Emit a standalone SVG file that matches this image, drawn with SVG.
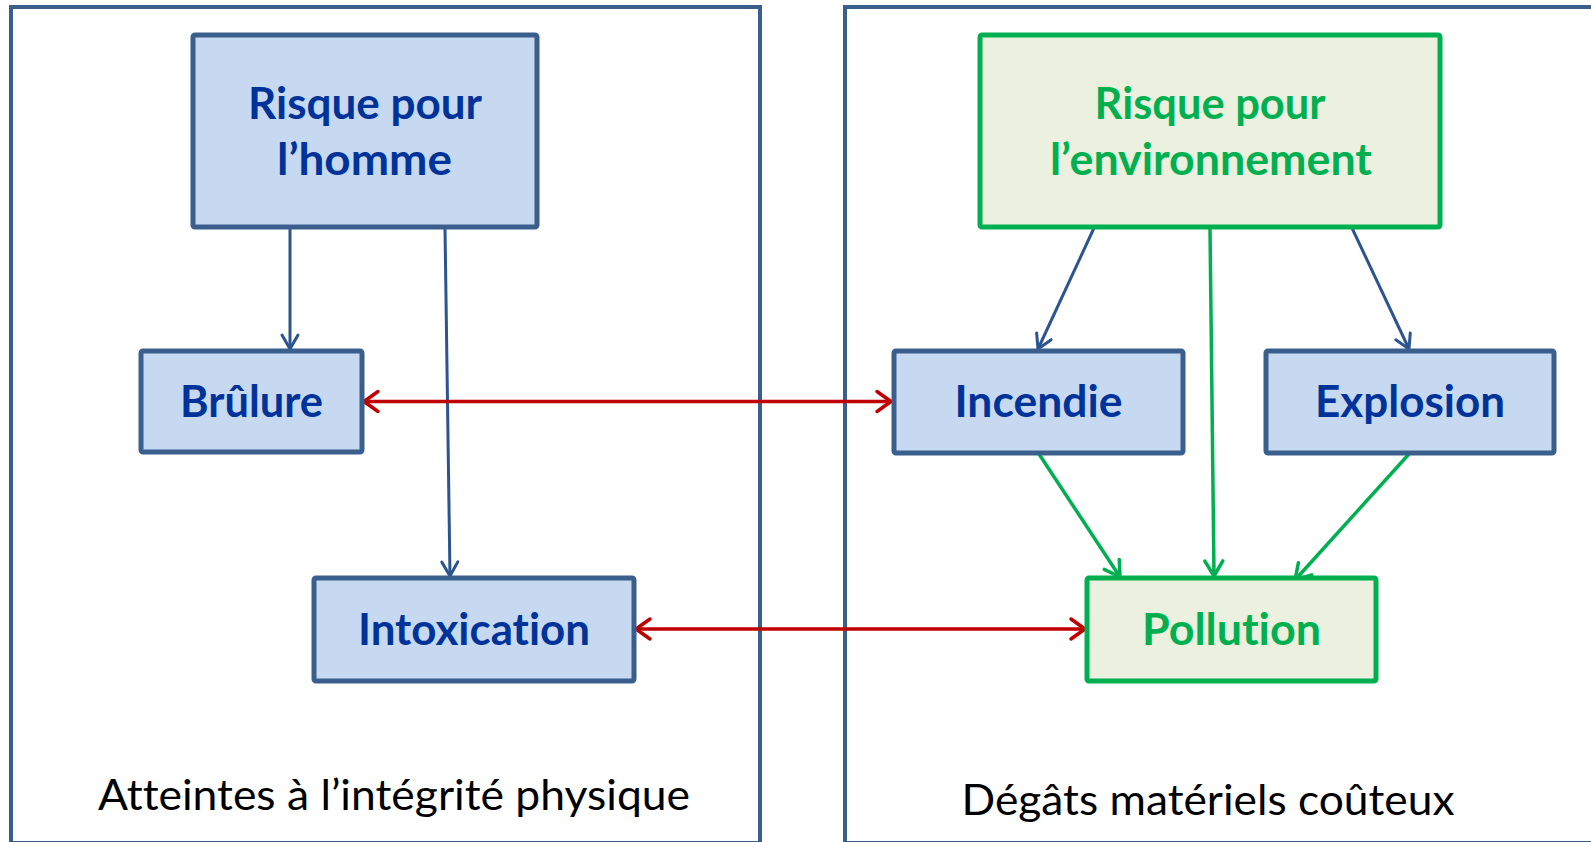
<svg xmlns="http://www.w3.org/2000/svg" width="1591" height="842" viewBox="0 0 1591 842">
<style>
.panel{fill:#FFFFFF;stroke:#3A5F8D;stroke-width:4}
.bn{fill:#C6D9F1;stroke:#3A5F8D;stroke-width:5}
.gn{fill:#EBF1DE;stroke:#00B050;stroke-width:5}
text{font-variant-ligatures:none;font-feature-settings:"liga" 0}
.bt{font-family:Lato,"Open Sans",sans-serif;font-weight:bold;font-size:43px;fill:#003399;text-anchor:middle}
.gt{font-family:Lato,"Open Sans",sans-serif;font-weight:bold;font-size:43px;fill:#00B050;text-anchor:middle}
.pt{font-family:Lato,"Open Sans",sans-serif;font-size:42px;fill:#000000;text-anchor:middle}
.cb{stroke:#2C5590;stroke-width:3;fill:none;marker-end:url(#ab)}
.cg{stroke:#00B050;stroke-width:3.5;fill:none;marker-end:url(#ag)}
.cr{stroke:#C00000;stroke-width:3.5;fill:none;marker-start:url(#ar);marker-end:url(#ar)}
</style>
<defs>
<marker id="ab" markerUnits="userSpaceOnUse" markerWidth="30" markerHeight="30" viewBox="-20 -15 30 30" refX="0" refY="0" orient="auto" overflow="visible">
<path d="M-14,-8 L0,0 L-14,8" fill="none" stroke="#2C5590" stroke-width="3" stroke-linecap="round" stroke-linejoin="round"/>
</marker>
<marker id="ag" markerUnits="userSpaceOnUse" markerWidth="30" markerHeight="30" viewBox="-20 -15 30 30" refX="0" refY="0" orient="auto" overflow="visible">
<path d="M-15,-9 L0,0 L-15,9" fill="none" stroke="#00B050" stroke-width="3.5" stroke-linecap="round" stroke-linejoin="round"/>
</marker>
<marker id="ar" markerUnits="userSpaceOnUse" markerWidth="30" markerHeight="30" viewBox="-20 -15 30 30" refX="0" refY="0" orient="auto-start-reverse" overflow="visible">
<path d="M-14,-10 L0,0 L-14,10" fill="none" stroke="#C00000" stroke-width="3.5" stroke-linecap="round" stroke-linejoin="round"/>
</marker>
</defs>

<g id="panel-left">
<rect class="panel" x="11" y="7" width="749" height="836"/>
<text class="pt" x="394" y="810" textLength="592" lengthAdjust="spacingAndGlyphs">Atteintes à l’intégrité physique</text>
</g>
<g id="panel-right">
<rect class="panel" x="845" y="7" width="780" height="836"/>
<text class="pt" x="1208" y="815" textLength="493" lengthAdjust="spacingAndGlyphs">Dégâts matériels coûteux</text>
</g>

<g id="connectors">
<line class="cb" x1="290" y1="227" x2="290" y2="349"/>
<line class="cb" x1="445" y1="228" x2="450" y2="576"/>
<line class="cb" x1="1094" y1="228" x2="1038" y2="349"/>
<line class="cb" x1="1352" y1="228" x2="1409" y2="349"/>
<line class="cg" x1="1210" y1="228" x2="1214" y2="576"/>
<line class="cg" x1="1039" y1="454" x2="1120" y2="577"/>
<line class="cg" x1="1409" y1="454" x2="1295" y2="580"/>
<line class="cr" x1="364" y1="401.5" x2="891" y2="401.5"/>
<line class="cr" x1="636" y1="629" x2="1085" y2="629"/>
</g>

<g id="node-risque-homme">
<rect class="bn" x="193" y="35" width="344" height="192" rx="2"/>
<text class="bt" x="365" y="119" textLength="234" lengthAdjust="spacingAndGlyphs">Risque pour</text>
<text class="bt" x="364.5" y="175" textLength="175" lengthAdjust="spacingAndGlyphs">l’homme</text>
</g>
<g id="node-risque-env">
<rect class="gn" x="980" y="35" width="460" height="192" rx="2"/>
<text class="gt" x="1210" y="119" textLength="231" lengthAdjust="spacingAndGlyphs">Risque pour</text>
<text class="gt" x="1211" y="175" textLength="322" lengthAdjust="spacingAndGlyphs">l’environnement</text>
</g>
<g id="node-brulure">
<rect class="bn" x="141" y="351" width="221" height="101" rx="2"/>
<text class="bt" x="251.5" y="417" textLength="143" lengthAdjust="spacingAndGlyphs">Brûlure</text>
</g>
<g id="node-intoxication">
<rect class="bn" x="314" y="578" width="320" height="103" rx="2"/>
<text class="bt" x="474" y="645" textLength="232" lengthAdjust="spacingAndGlyphs">Intoxication</text>
</g>
<g id="node-incendie">
<rect class="bn" x="894" y="351" width="289" height="102" rx="2"/>
<text class="bt" x="1038.5" y="417" textLength="168" lengthAdjust="spacingAndGlyphs">Incendie</text>
</g>
<g id="node-explosion">
<rect class="bn" x="1266" y="351" width="288" height="102" rx="2"/>
<text class="bt" x="1410" y="417" textLength="190" lengthAdjust="spacingAndGlyphs">Explosion</text>
</g>
<g id="node-pollution">
<rect class="gn" x="1087" y="578" width="289" height="103" rx="2"/>
<text class="gt" x="1231.5" y="645" textLength="179" lengthAdjust="spacingAndGlyphs">Pollution</text>
</g>
</svg>
